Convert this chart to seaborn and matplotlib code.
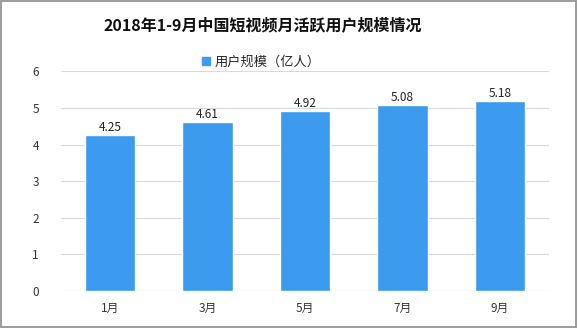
import matplotlib
matplotlib.use("Agg")
import matplotlib.pyplot as plt
import seaborn as sns
import pandas as pd
from matplotlib.patches import Rectangle, Patch

categories = ["1月", "3月", "5月", "7月", "9月"]
values = [4.25, 4.61, 4.92, 5.08, 5.18]
series_name = "用户规模（亿人）"
title = "2018年1-9月中国短视频月活跃用户规模情况"
yticks = [0, 1, 2, 3, 4, 5, 6]

sns.set_theme(style="white")
plt.rcParams['font.family'] = ['Noto Sans CJK SC', 'DejaVu Sans']

color = "#3C9BEF"
df = pd.DataFrame({"month": categories, "value": values})

fig = plt.figure(figsize=(5.78, 3.28), dpi=100)
ax = fig.add_axes([0.106, 0.1128, 0.8435, 0.6695])
sns.barplot(data=df, x="month", y="value", color=color, width=0.52, ax=ax,
            saturation=1, zorder=3)
ax.set_ylim(0, 6)
ax.set_yticks(yticks)
ax.set_xlim(-0.5, len(categories) - 0.5)
ax.yaxis.grid(True, color="#D9D9D9", linewidth=0.8, zorder=0)
ax.set_axisbelow(True)
for s in ax.spines.values():
    s.set_visible(False)
ax.axhline(0, color="#D9D9D9", linewidth=0.8, zorder=1)
ax.set_xlabel("")
ax.set_ylabel("")
ax.tick_params(axis="both", length=0, labelsize=8.5, colors="#333333")
ax.tick_params(axis="y", pad=16)
ax.tick_params(axis="x", pad=8)
for c in ax.containers:
    ax.bar_label(c, labels=[f"{v:.2f}" for v in values], fontsize=8.5,
                 color="#222222", padding=1)

fig.text(0.455, 1 - 25 / 328, title, ha="center", va="center", fontsize=11.5,
         fontweight="bold", color="#111111")
leg = fig.legend(handles=[Patch(color=color, label=series_name)],
                 loc="center", bbox_to_anchor=(0.452, 1 - 62 / 328), frameon=False,
                 fontsize=9.5, handlelength=0.6, handleheight=0.6, handletextpad=0.3)
fig.patches.append(Rectangle((0.002, 0.003), 0.995, 0.993, transform=fig.transFigure,
                             fill=False, edgecolor="#8C8C8C", linewidth=1.2))
fig.savefig("out.png", dpi=100)
